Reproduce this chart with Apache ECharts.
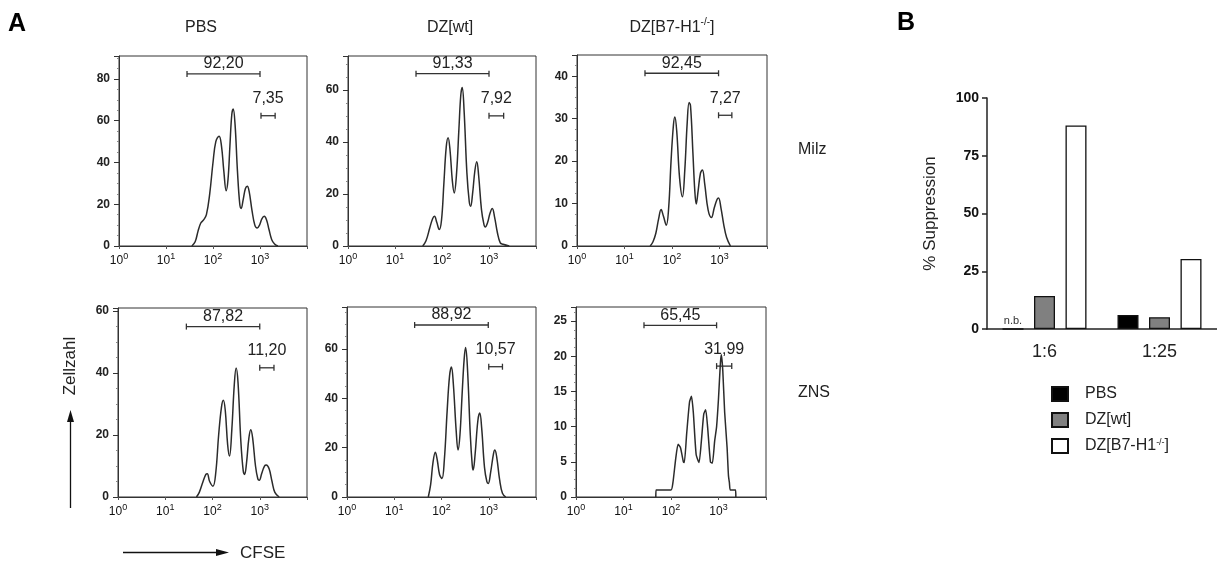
<!DOCTYPE html>
<html><head><meta charset="utf-8">
<script src="https://cdn.jsdelivr.net/npm/echarts@6/dist/echarts.min.js"></script>
<style>html,body{margin:0;padding:0;background:#fff}#c{width:1217px;height:563px}</style>
</head><body><div id="c"></div>
<script>
const FONT = '"Liberation Sans", Arial, sans-serif';

// ---------- Panel A: CFSE histograms ----------
const columnTitles = ['PBS', 'DZ[wt]', 'DZ[B7-H1-/-]'];
const rowTitles = ['Milz', 'ZNS'];
const xTickExponents = [0, 1, 2, 3];
const yMax = [91, 73, 45, 61, 77, 27];
const yInterval = [20, 20, 10, 20, 20, 5];

// [CFSE intensity, cell count]
const histPBSMilz = [[35.5,0],[41.7,2],[47.9,7],[55,11],[63.1,12.5],[72.4,15],[85.1,25],[100,40],[114.8,50],[134.9,52.6],[151.4,48],[169.8,36],[190.5,26.5],[208.9,32],[229.1,48],[251.2,63],[269.2,65.6],[295.1,58],[331.1,36],[371.5,20],[398.1,18],[436.5,22],[489.8,27.5],[537,28.6],[588.8,26],[676.1,17],[776.2,10],[871,8.6],[977.2,10],[1096,13],[1230,14.2],[1380,12.5],[1549,8],[1778,3],[2042,1],[2399,0]];
const histWtMilz = [[38.9,0],[45.7,2],[55,7],[63.1,10.5],[69.2,11.4],[77.6,9],[87.1,6.3],[97.7,10],[109.6,24],[123,38],[134.9,41.6],[147.9,37],[166,25],[182,20.4],[204.2,28],[229.1,45],[251.2,58],[269.2,60.9],[295.1,52],[338.8,28],[380.2,17],[407.4,15.3],[446.7,20],[501.2,29],[549.5,32.4],[602.6,27],[691.8,14],[776.2,8.5],[831.8,7.3],[933.3,9],[1047,12.5],[1175,14.4],[1318,11],[1514,5],[1738,1.2],[1995,0.7],[2692,0]];
const histB7Milz = [[34.7,0],[39.8,1],[45.7,3],[52.5,6.5],[58.9,8.6],[66.1,7],[75.9,4.9],[85.1,9],[95.5,20],[107.2,28.5],[114.8,30.4],[125.9,27],[144.5,16],[166,11.6],[186.2,18],[208.9,29],[229.1,33.8],[245.5,33],[275.4,22],[302,13],[323.6,9.9],[354.8,13],[398.1,17.2],[436.5,17.9],[489.8,14.5],[575.4,8.5],[676.1,6.7],[776.2,9],[891.3,11],[955,11.3],[1072,9],[1230,5],[1413,2],[1698,0]];
const histPBSZns = [[45.7,0],[52.5,1.5],[63.1,5],[72.4,7.3],[77.6,7.5],[87.1,5],[102.3,3.5],[117.5,8],[134.9,20],[154.9,29],[169.8,31.2],[186.2,28],[208.9,17],[229.1,13.2],[257,22],[288.4,36],[316.2,41.6],[346.7,37],[398.1,18],[446.7,8.5],[478.6,7.3],[524.8,11],[588.8,19],[645.7,21.7],[707.9,19],[812.8,10],[912,5.8],[977.2,5.4],[1096,7.5],[1259,10],[1380,10.3],[1585,9],[1820,5],[2089,1.5],[2570,0]];
const histWtZns = [[52.5,0],[58.9,5],[66.1,14],[74.1,18.1],[81.3,15],[91.2,9],[102.3,7.5],[114.8,15],[131.8,35],[147.9,49],[162.2,52.7],[177.8,46],[204.2,27],[223.9,19],[245.5,25],[275.4,43],[302,56],[323.6,60.6],[354.8,52],[407.4,25],[446.7,13],[467.7,10.9],[512.9,17],[588.8,31],[645.7,34],[707.9,28],[812.8,12],[912,6.2],[977.2,5.5],[1096,10],[1259,17.5],[1349,19],[1479,16],[1698,7],[1950,1.5],[2291,0]];
const histB7Zns = [[47.9,0],[48.4,1],[100,1],[109.6,2],[125.9,5.5],[141.3,7.5],[158.5,7],[182,5],[190.5,4.9],[213.8,9],[245.5,13.5],[269.2,14.3],[295.1,12],[338.8,6],[389,4.9],[436.5,8],[489.8,11.8],[537,12.4],[588.8,10],[676.1,5],[741.3,4.8],[831.8,8],[912,10],[1000,14],[1096,19],[1148,20.2],[1230,18],[1349,12],[1514,7.1],[1622,3],[1698,2],[1778,1],[2291,1],[2317,0]];
const histograms = [histPBSMilz, histWtMilz, histB7Milz, histPBSZns, histWtZns, histB7Zns];

// gates: [low, high, drawn height]
const gatesPBSMilz = [[28,1000,82.4],[1050,2100,62.4]];
const gatesWtMilz  = [[28,1000,66.2],[1000,2050,50]];
const gatesB7Milz  = [[27,955,40.7],[955,1820,30.8]];
const gatesPBSZns  = [[28,1000,55],[1000,2000,41.7]];
const gatesWtZns   = [[27,977,69.7],[1000,1950,52.8]];
const gatesB7Zns   = [[27,912,24.4],[912,1900,18.6]];
const gates = [gatesPBSMilz, gatesWtMilz, gatesB7Milz, gatesPBSZns, gatesWtZns, gatesB7Zns];
const gateLabels = [['92,20','7,35'],['91,33','7,92'],['92,45','7,27'],['87,82','11,20'],['88,92','10,57'],['65,45','31,99']];

// ---------- Panel B: % Suppression ----------
const barCategories = ['1:6', '1:25'];
const barSeriesNames = ['PBS', 'DZ[wt]', 'DZ[B7-H1-/-]'];
const barPBS = [0, 6.1];      // 1:6 = n.b. (not determined)
const barWt = [14.3, 5.1];
const barB7 = [88.1, 30.3];
const suppressionMax = 100, suppressionInterval = 25;

// ---------- layout / style ----------
const histGrids = [
  {left:119, top:56, width:188, height:190},
  {left:348, top:56, width:188, height:190},
  {left:577, top:55, width:190, height:191},
  {left:118, top:308, width:189, height:189},
  {left:347, top:307, width:189, height:190},
  {left:576, top:307, width:190, height:190}
];
const smoothness = [0.4, 0.4, 0.4, 0.4, 0.4, 0.2];

function supRich(name) {
  const m = name.match(/^(.*)(-\/-)(\])$/);
  if (m) return '{n|' + m[1] + '}{s|' + m[2] + '}{n|' + m[3] + '}';
  return '{n|' + name + '}';
}

const grid = [], xAxis = [], yAxis = [], series = [];
histGrids.forEach((g, i) => {
  grid.push(Object.assign({show:true, borderColor:'#333', borderWidth:1, backgroundColor:'transparent'}, g));
  xAxis.push({
    type:'log', logBase:10, min:1, max:10000, gridIndex:i,
    axisLine:{show:true, lineStyle:{color:'#333', width:1}},
    axisTick:{show:true, length:3, lineStyle:{color:'#555'}},
    splitLine:{show:false},
    axisLabel:{
      margin:6, color:'#111',
      formatter: v => {
        const e = Math.round(Math.log10(v));
        return xTickExponents.includes(e) ? '{b|10}{s|' + e + '}' : '';
      },
      rich:{
        b:{fontSize:12, lineHeight:18, fontFamily:FONT, color:'#111'},
        s:{fontSize:9, lineHeight:9, verticalAlign:'top', fontFamily:FONT, color:'#111'}
      }
    }
  });
  yAxis.push({
    type:'value', min:0, max:yMax[i], interval:yInterval[i], gridIndex:i,
    axisLine:{show:true, lineStyle:{color:'#333', width:1}},
    axisTick:{show:true, length:5, lineStyle:{color:'#333'}},
    minorTick:{show:true, splitNumber:4, length:2, lineStyle:{color:'#888'}},
    splitLine:{show:false},
    axisLabel:{showMaxLabel:false, fontSize:12, fontWeight:'bold', color:'#222', margin:9, fontFamily:FONT}
  });
  series.push({
    type:'line', xAxisIndex:i, yAxisIndex:i, data:histograms[i],
    smooth:smoothness[i], symbol:'none', silent:true,
    lineStyle:{color:'#2b2b2b', width:1.5}
  });
  series.push({
    type:'custom', xAxisIndex:i, yAxisIndex:i, data:gates[i], silent:true,
    encode:{x:[0,1], y:2},
    renderItem:(params, api) => {
      const p1 = api.coord([api.value(0), api.value(2)]);
      const p2 = api.coord([api.value(1), api.value(2)]);
      const cap = 3, st = {stroke:'#333', lineWidth:1.3};
      const idx = params.dataIndex;
      return {type:'group', children:[
        {type:'line', shape:{x1:p1[0], y1:p1[1], x2:p2[0], y2:p2[1]}, style:st},
        {type:'line', shape:{x1:p1[0], y1:p1[1]-cap, x2:p1[0], y2:p1[1]+cap}, style:st},
        {type:'line', shape:{x1:p2[0], y1:p2[1]-cap, x2:p2[0], y2:p2[1]+cap}, style:st},
        {type:'text', x:(p1[0]+p2[0])/2, y:p1[1] - (idx === 0 ? 10 : 17),
         style:{text:gateLabels[i][idx], fill:'#222', font:'16px ' + FONT, align:'center', verticalAlign:'middle'}}
      ]};
    }
  });
});

// bar chart grid
grid.push({left:987, top:98, width:233, height:231, show:false});
xAxis.push({
  type:'category', gridIndex:6, data:barCategories,
  axisLine:{show:true, lineStyle:{color:'#222', width:1.5}},
  axisTick:{show:false},
  axisLabel:{fontSize:18, color:'#222', margin:14, fontFamily:FONT}
});
yAxis.push({
  type:'value', gridIndex:6, min:0, max:suppressionMax, interval:suppressionInterval,
  name:'% Suppression', nameLocation:'middle', nameGap:48,
  nameTextStyle:{fontSize:17, color:'#222', fontFamily:FONT},
  axisLine:{show:true, lineStyle:{color:'#222', width:1.5}},
  axisTick:{show:true, length:5, lineStyle:{color:'#222', width:1.5}},
  splitLine:{show:false},
  axisLabel:{fontSize:14, fontWeight:'bold', color:'#111', margin:8, fontFamily:FONT}
});
const barColors = ['#000000', '#808080', '#ffffff'];
const barData = [barPBS, barWt, barB7];
barSeriesNames.forEach((nm, k) => {
  series.push({
    type:'bar', name:nm, xAxisIndex:6, yAxisIndex:6,
    data: barData[k].map((v, j) => (k === 0 && j === 0)
      ? {value:v, label:{show:true, position:'top', distance:2, formatter:'n.b.', fontSize:11, color:'#333', fontFamily:FONT}}
      : v),
    barWidth:21, barGap:'50%',
    itemStyle:{color:barColors[k], borderColor:'#111', borderWidth:1.3},
    silent:true
  });
});

const titleRich = {n:{fontSize:16, lineHeight:22, fontFamily:FONT, fill:'#222'}, s:{fontSize:10, lineHeight:10, verticalAlign:'top', fontFamily:FONT, fill:'#222'}};
const graphic = [
  {type:'text', left:8, top:12, style:{text:'A', font:'bold 25px ' + FONT, fill:'#000'}},
  {type:'text', left:897, top:11, style:{text:'B', font:'bold 25px ' + FONT, fill:'#000'}},
  {type:'text', x:201, y:28, style:{text:supRich(columnTitles[0]), align:'center', verticalAlign:'middle', rich:titleRich}},
  {type:'text', x:450, y:28, style:{text:supRich(columnTitles[1]), align:'center', verticalAlign:'middle', rich:titleRich}},
  {type:'text', x:672, y:28, style:{text:supRich(columnTitles[2]), align:'center', verticalAlign:'middle', rich:titleRich}},
  {type:'text', x:798, y:150, style:{text:rowTitles[0], font:'16px ' + FONT, fill:'#222', verticalAlign:'middle'}},
  {type:'text', x:798, y:393, style:{text:rowTitles[1], font:'16px ' + FONT, fill:'#222', verticalAlign:'middle'}},
  {type:'text', x:70, y:366, rotation:Math.PI/2, style:{text:'Zellzahl', font:'17px ' + FONT, fill:'#222', align:'center', verticalAlign:'middle'}},
  {type:'line', shape:{x1:70.5, y1:508, x2:70.5, y2:420}, style:{stroke:'#111', lineWidth:1.3}},
  {type:'polygon', shape:{points:[[70.5,410],[67,422],[74,422]]}, style:{fill:'#111'}},
  {type:'line', shape:{x1:123, y1:552.5, x2:218, y2:552.5}, style:{stroke:'#111', lineWidth:1.3}},
  {type:'polygon', shape:{points:[[229,552.5],[216,549],[216,556]]}, style:{fill:'#111'}},
  {type:'text', x:240, y:553, style:{text:'CFSE', font:'17px ' + FONT, fill:'#222', verticalAlign:'middle'}}
];

const chart = echarts.init(document.getElementById('c'), null, {renderer:'canvas'});
chart.setOption({
  animation:false,
  backgroundColor:'#ffffff',
  textStyle:{fontFamily:FONT},
  grid, xAxis, yAxis, series, graphic,
  legend:{
    orient:'vertical', left:1051, top:386, padding:0,
    itemWidth:16, itemHeight:14, itemGap:10, icon:'rect',
    data:barSeriesNames,
    formatter: nm => supRich(nm),
    textStyle:{
      fontSize:16, color:'#222', fontFamily:FONT, padding:[0,0,0,12],
      rich:{n:{fontSize:16, lineHeight:16, fontFamily:FONT, color:'#222'}, s:{fontSize:9, lineHeight:9, verticalAlign:'top', fontFamily:FONT, color:'#222'}}
    }
  }
});
</script></body></html>
